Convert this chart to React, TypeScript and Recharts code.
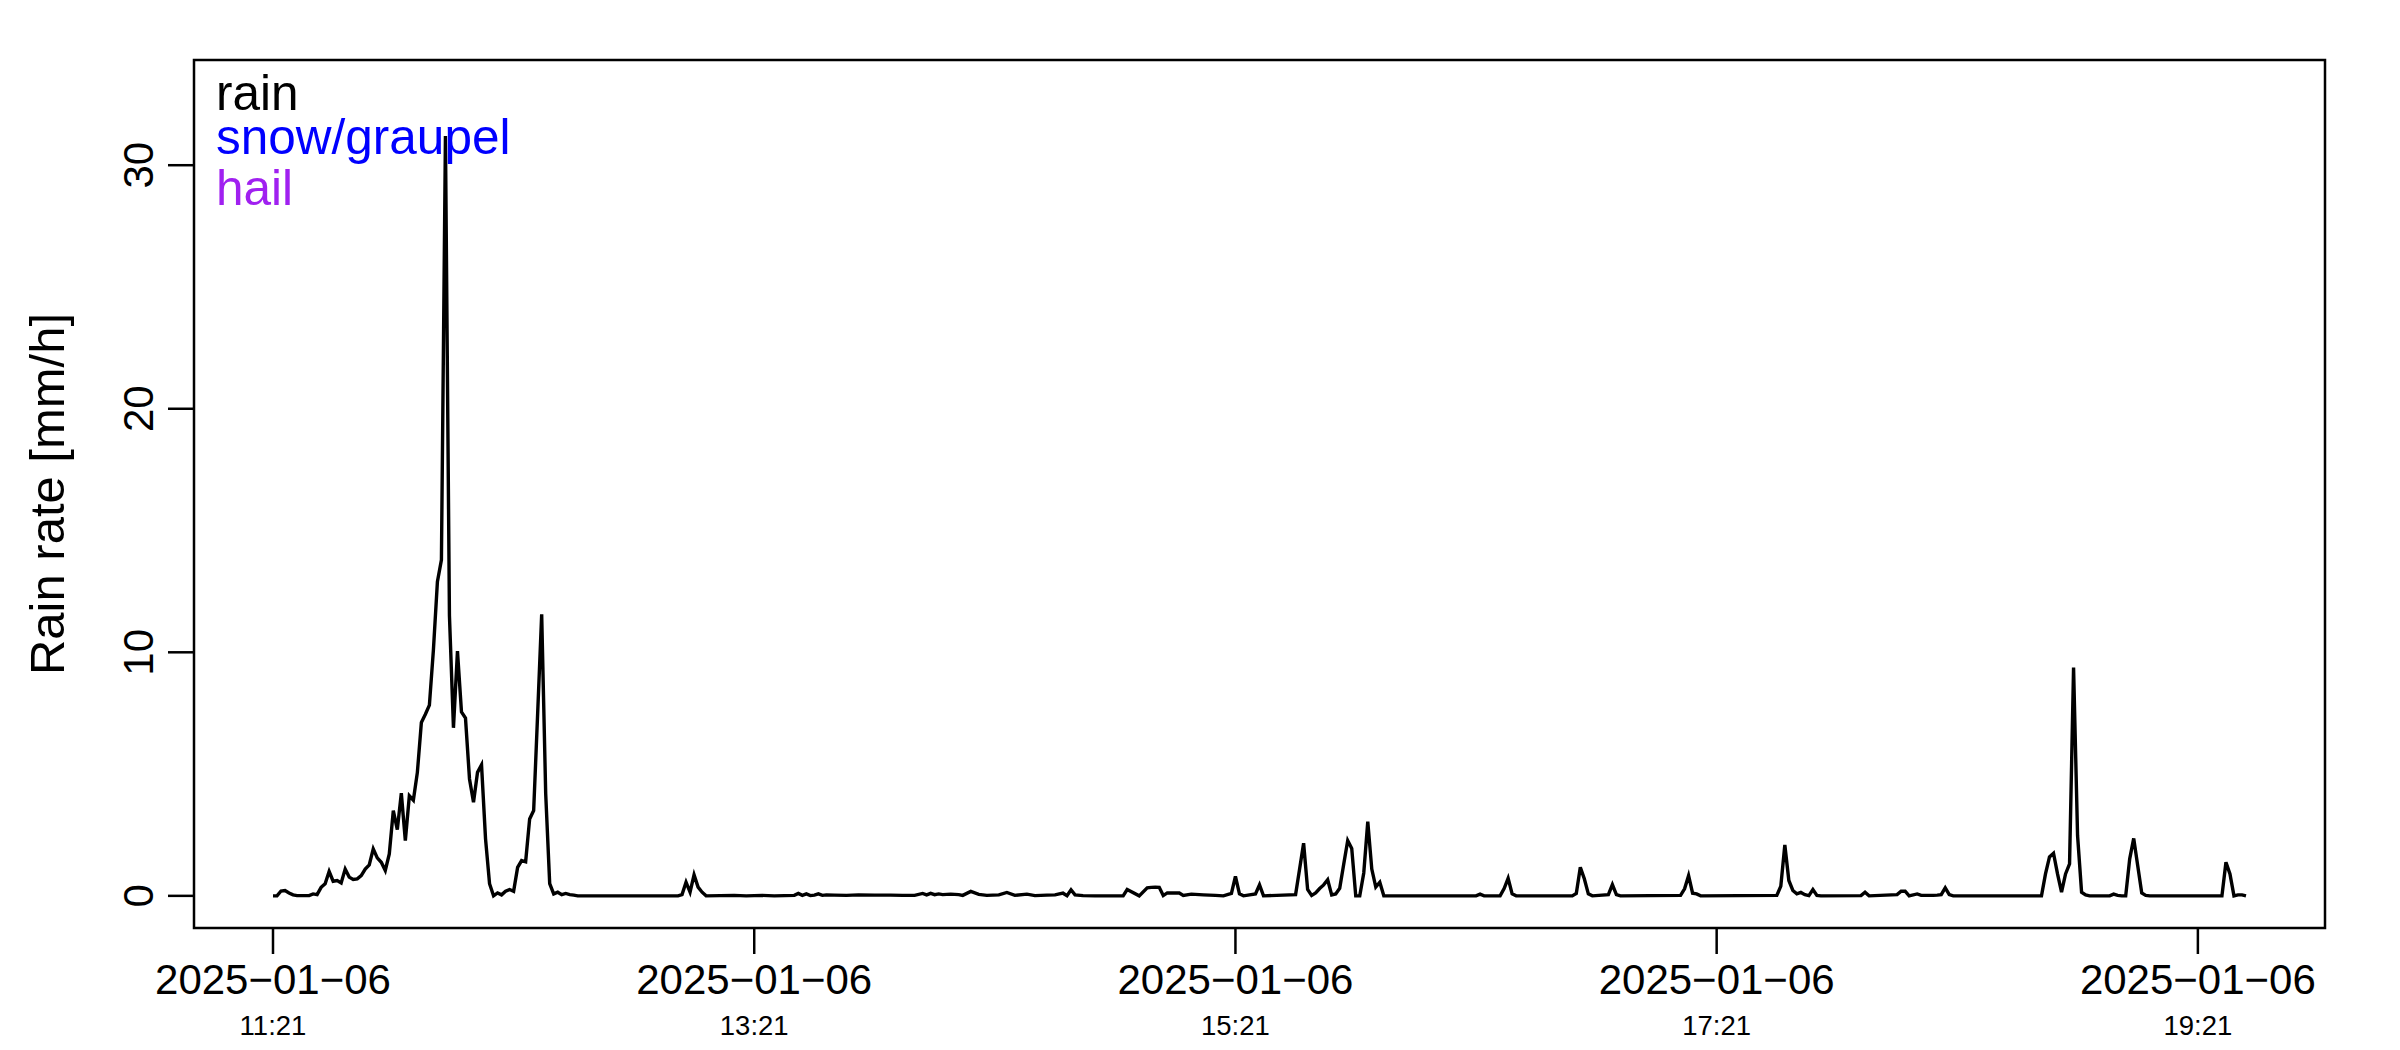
import React from 'react'
import { LineChart, Line, XAxis, YAxis, ReferenceArea } from 'recharts'

// minutes after 2025-01-06 11:21 and the rain rate read at each of them (mm/h)
const MINUTES = [
  0, 1, 2, 3, 4, 5, 6, 7, 8, 9, 10, 11, 12, 13, 14, 15, 16, 17, 18, 19,
  20, 21, 22, 23, 24, 25, 26, 27, 28, 29, 30, 31, 32, 33, 34, 35, 36, 37, 38, 39,
  40, 41, 42, 43, 44, 45, 46, 47, 48, 49, 50, 51, 52, 53, 54, 55, 56, 57, 58, 59,
  60, 61, 62, 63, 64, 65, 66, 67, 68, 69, 70, 71, 72, 73, 74, 75, 76,
  101, 102, 103, 104, 105, 106, 107, 108,
  115, 118, 122, 125, 130, 131, 132, 133, 134, 135, 136, 137, 138, 140, 143, 146, 150, 154, 157, 160,
  162, 163, 164, 165, 166, 167, 169, 171, 172, 174, 176, 178, 181, 183, 185, 188, 190, 193, 195, 197,
  198, 199, 200, 202, 205,
  212, 213, 216, 218, 219, 220, 221, 222, 223, 226, 227, 229, 232, 235, 237, 239, 240, 241, 242,
  245, 246, 247, 255, 256, 257, 258, 259, 260, 261, 262, 263, 264, 265, 266, 267, 268, 269, 270, 271,
  272, 273, 274, 275, 276, 277,
  300, 301, 302, 306, 307, 308, 309, 310,
  324, 325, 326, 327, 328, 329,
  333, 334, 335, 336,
  351, 352, 353, 354, 355, 356,
  375, 376, 377, 378, 379, 380, 381, 382, 383, 384, 385, 386,
  396, 397, 398,
  405, 406, 407, 408, 410, 411, 413, 414, 415, 416, 417, 418, 419,
  441, 442, 443, 444, 445, 446, 447, 448, 449, 450, 451, 452, 453,
  458, 459, 460, 461, 462, 463, 464, 465, 466, 467, 468,
  486, 487, 488, 489, 490, 491, 492,
]
const RAIN_RATE = [
  0, 0, 0.2, 0.22, 0.12, 0.04, 0.01, 0.01, 0.01, 0.01, 0.08, 0.05, 0.35, 0.5, 1.0, 0.6, 0.63, 0.53, 1.1, 0.77,
  0.67, 0.7, 0.83, 1.1, 1.27, 1.93, 1.56, 1.38, 1.04, 1.72, 3.5, 2.72, 4.22, 2.27, 4.11, 3.93, 5.07, 7.12, 7.46, 7.83,
  10.1, 12.9, 13.8, 31.2, 11.5, 6.9, 10.05, 7.55, 7.3, 4.8, 3.84, 5.07, 5.38, 2.34, 0.5, 0, 0.12, 0.04, 0.19, 0.26,
  0.19, 1.17, 1.45, 1.4, 3.16, 3.5, 7.5, 11.56, 4.2, 0.5, 0.08, 0.15, 0.05, 0.1, 0.05, 0.03, 0,
  0, 0.05, 0.56, 0.15, 0.86, 0.36, 0.15, 0,
  0.02, 0, 0.02, 0, 0.02, 0.1, 0.02, 0.08, 0.01, 0.03, 0.08, 0.02, 0.04, 0.03, 0.02, 0.04, 0.03, 0.03, 0.02, 0.02,
  0.1, 0.04, 0.1, 0.05, 0.08, 0.05, 0.07, 0.05, 0.02, 0.18, 0.06, 0.02, 0.04, 0.14, 0.02, 0.07, 0.01, 0.03, 0.04, 0.11,
  0.01, 0.25, 0.04, 0.01, 0,
  0, 0.26, 0, 0.33, 0.35, 0.36, 0.35, 0.01, 0.12, 0.12, 0.02, 0.07, 0.04, 0.02, 0, 0.1, 0.8, 0.08, 0,
  0.08, 0.45, 0, 0.05, 1.1, 2.16, 0.26, 0.02, 0.12, 0.3, 0.45, 0.66, 0.04, 0.08, 0.31, 1.3, 2.27, 1.95, 0, 0,
  0.94, 3.05, 1.1, 0.36, 0.56, 0,
  0, 0.07, 0, 0, 0.3, 0.72, 0.08, 0,
  0, 0.1, 1.17, 0.7, 0.08, 0,
  0.05, 0.46, 0.05, 0,
  0.02, 0.29, 0.83, 0.11, 0.08, 0,
  0.02, 0.4, 2.09, 0.63, 0.22, 0.08, 0.14, 0.05, 0.01, 0.26, 0.02, 0,
  0.01, 0.15, 0,
  0.05, 0.19, 0.19, 0, 0.08, 0.02, 0.02, 0.02, 0.03, 0.05, 0.33, 0.05, 0,
  0, 0.9, 1.6, 1.75, 0.9, 0.15, 0.9, 1.31, 9.37, 2.47, 0.15, 0.04, 0,
  0, 0.07, 0.02, 0, 0, 1.52, 2.36, 1.24, 0.12, 0.02, 0,
  0, 1.38, 0.9, 0, 0.04, 0.04, 0,
]

const TICK_MINUTES = [0, 120, 240, 360, 480]
const TICK_DATES = ['2025−01−06', '2025−01−06', '2025−01−06', '2025−01−06', '2025−01−06']
const TICK_TIMES = ['11:21', '13:21', '15:21', '17:21', '19:21']
const Y_TICKS = [0, 10, 20, 30]
const X_DOMAIN = [-19.7, 511.7]
const Y_DOMAIN = [-1.32, 34.32]

const LEGEND_LABELS = ['rain', 'snow/graupel', 'hail']
const LEGEND_COLORS = ['#000000', '#0000FF', '#A020F0']
const LEGEND_BASELINES = [110, 154, 205]

const FONT = '"Liberation Sans", Arial, Helvetica, sans-serif'

const data = MINUTES.map((m, i) => ({ minute: m, rate: RAIN_RATE[i] }))

function XTick(props: any) {
  const { x, y, payload } = props
  const i = TICK_MINUTES.indexOf(payload.value)
  return (
    <g>
      <text x={x} y={y + 40} textAnchor="middle" fontSize={42} fontFamily={FONT} fill="#000">
        {TICK_DATES[i]}
      </text>
      <text x={x} y={y + 81} textAnchor="middle" fontSize={27.5} fontFamily={FONT} fill="#000">
        {TICK_TIMES[i]}
      </text>
    </g>
  )
}

function YTick(props: any) {
  const { x, y, payload } = props
  return (
    <g transform={`translate(${x - 15}, ${y}) rotate(-90)`}>
      <text x={0} y={0} textAnchor="middle" fontSize={42} fontFamily={FONT} fill="#000">
        {payload.value}
      </text>
    </g>
  )
}

export default function App() {
  return (
    <div style={{ position: 'absolute', left: 0, top: 0, width: 2400, height: 1050, background: '#fff' }}>
      <LineChart
        width={2400}
        height={1050}
        data={data}
        margin={{ top: 60, right: 75, bottom: 12, left: 74 }}
      >
        <XAxis
          dataKey="minute"
          type="number"
          domain={X_DOMAIN}
          ticks={TICK_MINUTES}
          allowDataOverflow
          axisLine={false}
          tickLine={{ stroke: '#000', strokeWidth: 2.5 }}
          tickSize={26}
          tickMargin={0}
          height={110}
          tick={<XTick />}
          interval={0}
        />
        <YAxis
          type="number"
          domain={Y_DOMAIN}
          ticks={Y_TICKS}
          allowDataOverflow
          axisLine={false}
          tickLine={{ stroke: '#000', strokeWidth: 2.5 }}
          tickSize={26}
          tickMargin={0}
          width={120}
          tick={<YTick />}
          interval={0}
        />
        <ReferenceArea
          x1={X_DOMAIN[0]}
          x2={X_DOMAIN[1]}
          y1={Y_DOMAIN[0]}
          y2={Y_DOMAIN[1]}
          fill="none"
          fillOpacity={0}
          stroke="#000"
          strokeWidth={2.5}
          ifOverflow="visible"
        />
        <Line
          type="linear"
          dataKey="rate"
          stroke="#000"
          strokeWidth={3.4}
          dot={false}
          isAnimationActive={false}
        />
      </LineChart>
      <svg
        width={2400}
        height={1050}
        style={{ position: 'absolute', left: 0, top: 0, pointerEvents: 'none' }}
      >
        <g transform="translate(64, 494) rotate(-90)">
          <text x={0} y={0} textAnchor="middle" fontSize={49} fontFamily={FONT} fill="#000">
            Rain rate [mm/h]
          </text>
        </g>
        {LEGEND_LABELS.map((label, i) => (
          <text key={label} x={216} y={LEGEND_BASELINES[i]} fontSize={49.5} fontFamily={FONT} fill={LEGEND_COLORS[i]}>
            {label}
          </text>
        ))}
      </svg>
    </div>
  )
}
